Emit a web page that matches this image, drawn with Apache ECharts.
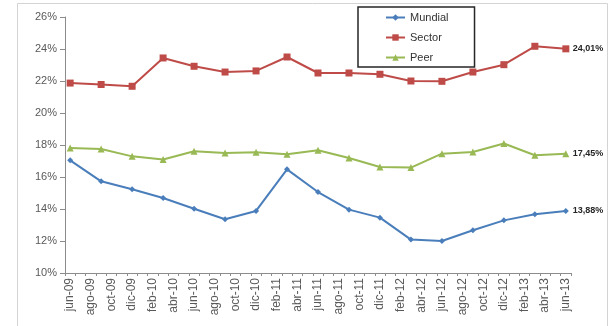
<!DOCTYPE html>
<html>
<head>
<meta charset="utf-8">
<script src="https://cdn.jsdelivr.net/npm/echarts@6/dist/echarts.min.js"></script>
<style>
  html, body { margin: 0; padding: 0; background: #ffffff; }
  #chart { width: 612px; height: 326px; }
</style>
</head>
<body>
<div id="chart"></div>
<script>
// Monthly axis from jun-09 to jun-13, labelled every two months
const monthNames = ['ene', 'feb', 'mar', 'abr', 'may', 'jun', 'jul', 'ago', 'sep', 'oct', 'nov', 'dic'];
const months = [];
for (let i = 0; i <= 48; i++) {
  const m = (5 + i) % 12;
  const y = 9 + Math.floor((5 + i) / 12);
  months.push(monthNames[m] + '-' + String(y).padStart(2, '0'));
}

// Quarterly observations
const quarters = ['jun-09', 'sep-09', 'dic-09', 'mar-10', 'jun-10', 'sep-10', 'dic-10', 'mar-11',
  'jun-11', 'sep-11', 'dic-11', 'mar-12', 'jun-12', 'sep-12', 'dic-12', 'mar-13', 'jun-13'];

const mundial = [17.04, 15.73, 15.23, 14.69, 14.02, 13.36, 13.88, 16.48,
  15.06, 13.96, 13.46, 12.09, 12.00, 12.67, 13.29, 13.67, 13.88];
const sector = [21.87, 21.78, 21.67, 23.44, 22.92, 22.56, 22.63, 23.50,
  22.50, 22.50, 22.42, 22.00, 21.98, 22.56, 23.02, 24.17, 24.01];
const peer = [17.81, 17.75, 17.29, 17.09, 17.61, 17.50, 17.54, 17.42,
  17.67, 17.19, 16.63, 16.59, 17.46, 17.56, 18.09, 17.36, 17.45];

const yTicks = { min: 10, max: 26, step: 2 };

const pct = v => v.toFixed(2).replace('.', ',') + '%';

function makeSeries(name, values, color, symbol, size) {
  return {
    name: name,
    type: 'line',
    data: quarters.map((q, i) => [q, values[i]]),
    symbol: symbol,
    symbolSize: size,
    showAllSymbol: true,
    lineStyle: { color: color, width: 2 },
    itemStyle: { color: color },
    emphasis: { disabled: true },
    endLabel: {
      show: true,
      distance: 7,
      formatter: p => pct(p.value[1]),
      fontFamily: 'Liberation Sans',
      fontSize: 9,
      fontWeight: 'bold',
      color: '#262626'
    }
  };
}

const chart = echarts.init(document.getElementById('chart'), null, { renderer: 'canvas' });
chart.setOption({
  animation: false,
  backgroundColor: '#ffffff',
  graphic: [{
    type: 'rect',
    shape: { x: 17.5, y: 3.5, width: 590, height: 340 },
    style: { fill: 'none', stroke: '#d4d4d4', lineWidth: 1 },
    silent: true,
    z: -1
  }],
  grid: { left: 65, right: 41, top: 17, bottom: 53 },
  legend: {
    orient: 'vertical',
    left: 358,
    top: 7,
    padding: [5, 26, 4, 27],
    itemGap: 9,
    itemWidth: 19,
    itemHeight: 8,
    borderColor: '#262626',
    borderWidth: 1.5,
    backgroundColor: '#ffffff',
    textStyle: { fontFamily: 'Liberation Sans', fontSize: 11, color: '#333333' },
    data: ['Mundial', 'Sector', 'Peer']
  },
  xAxis: {
    type: 'category',
    data: months,
    boundaryGap: true,
    axisLine: { lineStyle: { color: '#8c8c8c', width: 1 } },
    axisTick: { show: true, interval: 0, length: 3, lineStyle: { color: '#8c8c8c' } },
    axisLabel: {
      interval: 1,
      rotate: 90,
      margin: 5,
      fontFamily: 'Liberation Sans',
      fontSize: 12,
      color: '#595959'
    },
    splitLine: { show: false }
  },
  yAxis: {
    type: 'value',
    min: yTicks.min,
    max: yTicks.max,
    interval: yTicks.step,
    axisLine: { show: true, lineStyle: { color: '#8c8c8c', width: 1 } },
    axisTick: { show: true, length: 5, lineStyle: { color: '#8c8c8c' } },
    axisLabel: {
      formatter: '{value}%',
      margin: 8,
      fontFamily: 'Liberation Sans',
      fontSize: 11,
      color: '#595959'
    },
    splitLine: { show: false }
  },
  series: [
    makeSeries('Mundial', mundial, '#4a7ebb', 'diamond', 6),
    makeSeries('Sector', sector, '#be4b48', 'rect', 7),
    makeSeries('Peer', peer, '#98b954', 'triangle', 7)
  ]
});
</script>
</body>
</html>
